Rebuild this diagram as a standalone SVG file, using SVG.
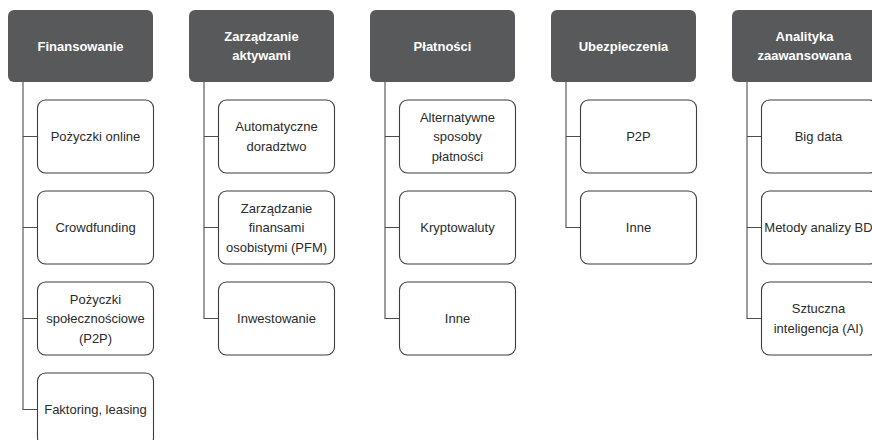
<svg xmlns="http://www.w3.org/2000/svg" width="872" height="440" viewBox="0 0 872 440">
<style>
.hdr{fill:#58595b}
.box{fill:#ffffff;stroke:#3d3d3d;stroke-width:1.1}
.ht{font-family:"Liberation Sans",Arial,sans-serif;font-size:13px;font-weight:bold;fill:#ffffff;text-anchor:middle}
.bt{font-family:"Liberation Sans",Arial,sans-serif;font-size:13px;fill:#2b2b2b;text-anchor:middle}
.con{fill:none;stroke:#4d4d4d;stroke-width:1.1}
</style>
<rect width="872" height="440" fill="#ffffff"/>
<g id="connectors">
<path class="con" d="M23,82 V409.5 H37.5 M23,136.5 H37.5 M23,227.5 H37.5 M23,318.5 H37.5"/>
<path class="con" d="M204,82 V318.5 H218.5 M204,136.5 H218.5 M204,227.5 H218.5"/>
<path class="con" d="M385,82 V318.5 H399.5 M385,136.5 H399.5 M385,227.5 H399.5"/>
<path class="con" d="M566,82 V227.5 H580.5 M566,136.5 H580.5"/>
<path class="con" d="M747,82 V318.5 H761.5 M747,136.5 H761.5 M747,227.5 H761.5"/>
</g>
<g id="h1"><rect class="hdr" x="8" y="10" width="145" height="72" rx="6"/><text class="ht" x="80.5" y="50.5">Finansowanie</text></g>
<g id="h2"><rect class="hdr" x="189" y="10" width="145" height="72" rx="6"/><text class="ht" x="261.5" y="40.5">Zarządzanie</text><text class="ht" x="261.5" y="60">aktywami</text></g>
<g id="h3"><rect class="hdr" x="370" y="10" width="145" height="72" rx="6"/><text class="ht" x="442.5" y="50.5">Płatności</text></g>
<g id="h4"><rect class="hdr" x="551" y="10" width="145" height="72" rx="6"/><text class="ht" x="623.5" y="50.5">Ubezpieczenia</text></g>
<g id="h5"><rect class="hdr" x="732" y="10" width="145" height="72" rx="6"/><text class="ht" x="804.5" y="40.5">Analityka</text><text class="ht" x="804.5" y="60">zaawansowana</text></g>

<g id="n1a"><rect class="box" x="37.5" y="100" width="116" height="73" rx="8"/><text class="bt" x="95.5" y="141">Pożyczki online</text></g>
<g id="n1b"><rect class="box" x="37.5" y="191" width="116" height="73" rx="8"/><text class="bt" x="95.5" y="232">Crowdfunding</text></g>
<g id="n1c"><rect class="box" x="37.5" y="282" width="116" height="73" rx="8"/><text class="bt" x="95.5" y="303.5">Pożyczki</text><text class="bt" x="95.5" y="323">społecznościowe</text><text class="bt" x="95.5" y="342.5">(P2P)</text></g>
<g id="n1d"><rect class="box" x="37.5" y="373" width="116" height="73" rx="8"/><text class="bt" x="95.5" y="414">Faktoring, leasing</text></g>

<g id="n2a"><rect class="box" x="218.5" y="100" width="116" height="73" rx="8"/><text class="bt" x="276.5" y="131.25">Automatyczne</text><text class="bt" x="276.5" y="150.75">doradztwo</text></g>
<g id="n2b"><rect class="box" x="218.5" y="191" width="116" height="73" rx="8"/><text class="bt" x="276.5" y="212.5">Zarządzanie</text><text class="bt" x="276.5" y="232">finansami</text><text class="bt" x="276.5" y="251.5">osobistymi (PFM)</text></g>
<g id="n2c"><rect class="box" x="218.5" y="282" width="116" height="73" rx="8"/><text class="bt" x="276.5" y="323">Inwestowanie</text></g>

<g id="n3a"><rect class="box" x="399.5" y="100" width="116" height="73" rx="8"/><text class="bt" x="457.5" y="121.5">Alternatywne</text><text class="bt" x="457.5" y="141">sposoby</text><text class="bt" x="457.5" y="160.5">płatności</text></g>
<g id="n3b"><rect class="box" x="399.5" y="191" width="116" height="73" rx="8"/><text class="bt" x="457.5" y="232">Kryptowaluty</text></g>
<g id="n3c"><rect class="box" x="399.5" y="282" width="116" height="73" rx="8"/><text class="bt" x="457.5" y="323">Inne</text></g>

<g id="n4a"><rect class="box" x="580.5" y="100" width="116" height="73" rx="8"/><text class="bt" x="638.5" y="141">P2P</text></g>
<g id="n4b"><rect class="box" x="580.5" y="191" width="116" height="73" rx="8"/><text class="bt" x="638.5" y="232">Inne</text></g>

<g id="n5a"><rect class="box" x="761.5" y="100" width="116" height="73" rx="8"/><text class="bt" x="818.5" y="141">Big data</text></g>
<g id="n5b"><rect class="box" x="761.5" y="191" width="116" height="73" rx="8"/><text class="bt" x="818.5" y="232">Metody analizy BD</text></g>
<g id="n5c"><rect class="box" x="761.5" y="282" width="116" height="73" rx="8"/><text class="bt" x="818.5" y="313.25">Sztuczna</text><text class="bt" x="818.5" y="332.75">inteligencja (AI)</text></g>
</svg>
